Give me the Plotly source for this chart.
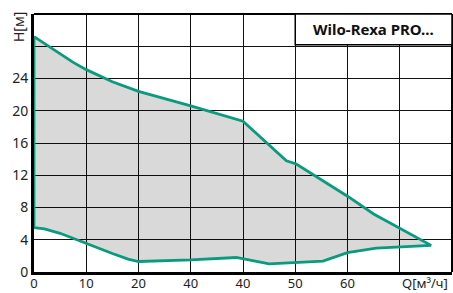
import plotly.graph_objects as go

# Upper curve (max head) Q [m3/h], H [m]
upper_q = [0, 2.5, 5, 7.5, 10, 15, 20, 30, 40, 48.3, 50.2, 54.7, 60, 65, 70, 76]
upper_h = [29.2, 28.1, 27.0, 26.0, 25.1, 23.6, 22.4, 20.6, 18.7, 13.8, 13.4, 11.6, 9.4, 7.2, 5.4, 3.3]
# Lower curve (min head)
lower_q = [0, 2, 5, 10, 15, 18, 20, 30, 38.7, 45, 55.3, 60, 65.5, 76]
lower_h = [5.5, 5.35, 4.8, 3.6, 2.3, 1.6, 1.3, 1.5, 1.8, 1.0, 1.35, 2.4, 2.95, 3.3]

x_tickvals = [0, 10, 20, 30, 40, 50, 60, 70, 80]
x_ticktext = ["0", "10", "20", "40", "40", "50", "60", "", ""]
y_tickvals = [0, 4, 8, 12, 16, 20, 24, 28, 32]
y_ticktext = ["0", "4", "8", "12", "16", "20", "24", "", ""]

title_text = "Wilo-Rexa PRO..."
x_label = "Q[м³/ч]"
y_label = "H[м]"

teal = "#0a9a7e"
font = dict(family="Noto Sans, Open Sans, sans-serif", size=14, color="#222")
xfont = dict(family="Noto Sans, Open Sans, sans-serif", size=13, color="#222")

poly_q = upper_q + lower_q[::-1] + [upper_q[0]]
poly_h = upper_h + lower_h[::-1] + [upper_h[0]]

fig = go.Figure()
fig.add_trace(go.Scatter(
    x=poly_q, y=poly_h, mode="lines", fill="toself",
    fillcolor="rgba(0,0,0,0.15)",
    line=dict(color=teal, width=2.8),
    hoverinfo="skip", showlegend=False,
))

fig.update_layout(
    width=453, height=293,
    margin=dict(l=34, r=1, t=14, b=21, autoexpand=False),
    paper_bgcolor="white", plot_bgcolor="white",
    font=font,
    showlegend=False,
    xaxis=dict(range=[0, 80], tickvals=x_tickvals, ticktext=x_ticktext,
               showgrid=True, gridcolor="#111", gridwidth=1,
               showline=True, linecolor="#000", linewidth=3,
               zeroline=False, ticks="", ticklen=0, tickfont=xfont,
               automargin=False, ticklabelstandoff=-3),
    yaxis=dict(range=[0, 32], tickvals=y_tickvals, ticktext=y_ticktext,
               showgrid=True, gridcolor="#111", gridwidth=1,
               showline=True, linecolor="#000", linewidth=3,
               zeroline=False, ticks="", ticklen=0, tickfont=font,
               automargin=False),
    shapes=[
        dict(type="line", xref="paper", yref="paper", x0=0, x1=1, y0=1, y1=1,
             line=dict(color="#000", width=2)),
        dict(type="line", xref="paper", yref="paper", x0=1, x1=1, y0=0, y1=1,
             line=dict(color="#000", width=2)),
        dict(type="rect", xref="x", yref="y", x0=50, x1=80, y0=28.2, y1=32,
             fillcolor="white", line=dict(color="#000", width=1.5), layer="above"),
    ],
    annotations=[
        dict(text="<b>" + title_text + "</b>", xref="x", yref="y", x=65, y=30.1,
             showarrow=False, font=dict(family="Noto Sans, sans-serif", size=15, color="#111")),
        dict(text=x_label, xref="x", yref="paper", x=70, y=0, yshift=-11,
             xanchor="left", yanchor="middle", showarrow=False, font=xfont),
        dict(text=y_label, xref="paper", yref="paper", x=0, xshift=-16, y=1, yshift=-13,
             textangle=-90, xanchor="center", yanchor="middle", showarrow=False, font=font),
    ],
)

fig.write_html(
    "out.html",
    config={"displayModeBar": False, "staticPlot": True},
    post_script="document.body.style.margin='0';document.body.style.overflow='hidden';",
)
